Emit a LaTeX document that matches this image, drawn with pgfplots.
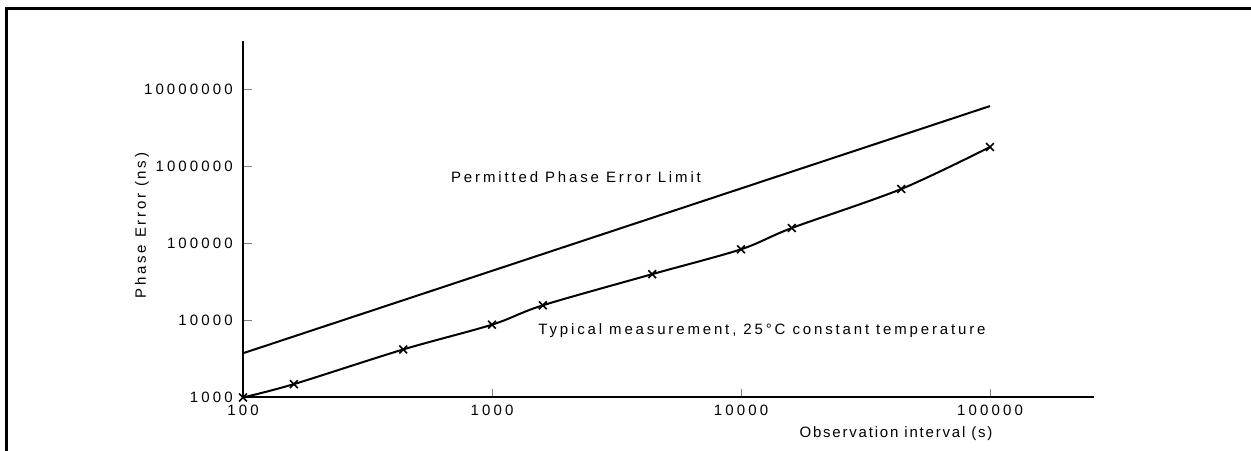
\documentclass[border=0pt]{standalone}
\usepackage{fontspec}
\setmainfont{Liberation Sans}[LetterSpace=19]
\newfontfamily\tickfont{Liberation Sans}[LetterSpace=21]
\newfontfamily\xlabfont{Liberation Sans}[LetterSpace=12]
\newfontfamily\ylabfont{Liberation Sans}[LetterSpace=18]
\usepackage{pgfplots}
\pgfplotsset{compat=1.18}
\begin{document}
\fontsize{15bp}{17bp}\selectfont
\begin{tikzpicture}
\useasboundingbox (0bp,0bp) rectangle (1251bp,451bp);
\draw[line width=2.5bp, black] (6.7bp,0bp) -- (6.7bp,442.3bp) -- (1251bp,442.3bp);
\begin{axis}[
  at={(243bp,53.5bp)}, anchor=south west,
  scale only axis, width=851bp, height=356.8bp,
  xmode=log, ymode=log,
  xmin=100, xmax=261700, ymin=1000, ymax=4.25e7,
  axis x line*=bottom, axis y line*=left,
  axis line style={line width=2bp,-},
  xminorticks=false, yminorticks=false,
  tick align=inside, major tick length=9bp,
  tick style={gray, line width=0.8bp},
  xtick={100,1000,10000,100000},
  xticklabels={100,1000,10000,100000},
  ytick={1000,10000,100000,1000000,10000000},
  yticklabels={1000,10000,100000,1000000,10000000},
  /pgf/number format/assume math mode=true,
  ticklabel style={font=\tickfont\fontsize{15bp}{17bp}\selectfont},
  yticklabel style={xshift=-5bp},
  xticklabel style={yshift=-2bp},
  clip=false,
]
\addplot[black, line width=2bp] coordinates {(100,3750) (100000,6030000)};
\addplot[black, line width=2bp, smooth, mark=x, mark size=5.5bp,
  mark options={line width=1.6bp}] coordinates {
(100,1000) (160,1490) (440,4200) (1000,8800) (1600,15700) (4400,39800)
(10000,83600) (16000,158000) (44000,506000) (100000,1775000)};
\end{axis}
\node[rotate=90] at (142bp,225.5bp) {\ylabfont\fontsize{15bp}{17bp}\selectfont Phase Error (ns)};
\node at (896bp,17bp) {\xlabfont\fontsize{15bp}{17bp}\selectfont Observation interval (s)};
\node at (576bp,273.7bp) {Permitted Phase Error Limit};
\node at (762bp,120.3bp) {Typical measurement, 25°C constant temperature};
\end{tikzpicture}
\end{document}
